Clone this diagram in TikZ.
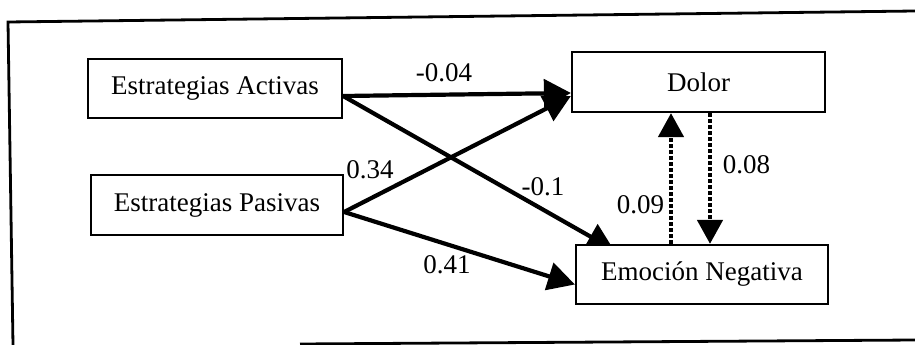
\documentclass[tikz,border=0pt]{standalone}
\usepackage{fontspec}
\setmainfont{Liberation Serif}
\usetikzlibrary{arrows.meta,backgrounds}
\begin{document}
\begin{tikzpicture}[x=1pt,y=-1pt,
  box/.style={draw,line width=2.2pt,fill=white,inner sep=0pt,
    font=\fontsize{27}{32}\selectfont},
  coef/.style={inner sep=0pt,font=\fontsize{27}{32}\selectfont},
  solidarrow/.style={line width=4.2pt,-{Triangle[length=27pt,width=28pt]}},
  dotarrow/.style={line width=4.5pt,dash pattern=on 3.5pt off 2.5pt,
    -{Triangle[length=24pt,width=25pt]}},
  frameline/.style={line width=2.8pt}]
\useasboundingbox (0,0) rectangle (915,345);

% open frame around the model
\draw[frameline] (13,345) -- (8,22) -- (915,11);
\draw[frameline] (300,344) -- (915,340);

% variables
\node[box,minimum width=254pt,minimum height=59pt] (ea) at (215,88.5) {Estrategias Activas};
\node[box,minimum width=252pt,minimum height=60pt] (ep) at (217,205) {Estrategias Pasivas};
\node[box,minimum width=253pt,minimum height=60pt] (dolor) at (698.5,82) {Dolor};
\node[box,minimum width=252pt,minimum height=59pt] (en) at (702,274.5) {Emoción Negativa};

% direct paths (behind the boxes)
\begin{pgfonlayer}{background}
\draw[solidarrow] ([yshift=-7.5pt]ea.east) -- ([yshift=-11pt]dolor.west);
\draw[solidarrow] ([yshift=-7.5pt]ea.east) -- ([xshift=39pt,yshift=-6pt]en.north west);
\draw[solidarrow] ([yshift=-7pt]ep.east) -- ([yshift=-14pt]dolor.west);
\draw[solidarrow] ([yshift=-7pt]ep.east) -- ([yshift=-10pt]en.west);
\end{pgfonlayer}

% reciprocal paths between Dolor and Emoción Negativa
\coordinate (up) at ([xshift=-31pt]en.north);
\coordinate (dn) at ([xshift=11.5pt]dolor.south);
\draw[dotarrow] (up) -- (up |- dolor.south);
\draw[dotarrow] (dn) -- (dn |- en.north);

% path coefficients
\node[coef] (c1) at (444,73) {-0.04};
\node[coef] (c2) at (370,170) {0.34};
\node[coef] (c3) at (543,187) {-0.1};
\node[coef] (c4) at (447,265) {0.41};
\node[coef] (c5) at (640.5,205) {0.09};
\node[coef] (c6) at (746.5,165) {0.08};
\end{tikzpicture}
\end{document}
